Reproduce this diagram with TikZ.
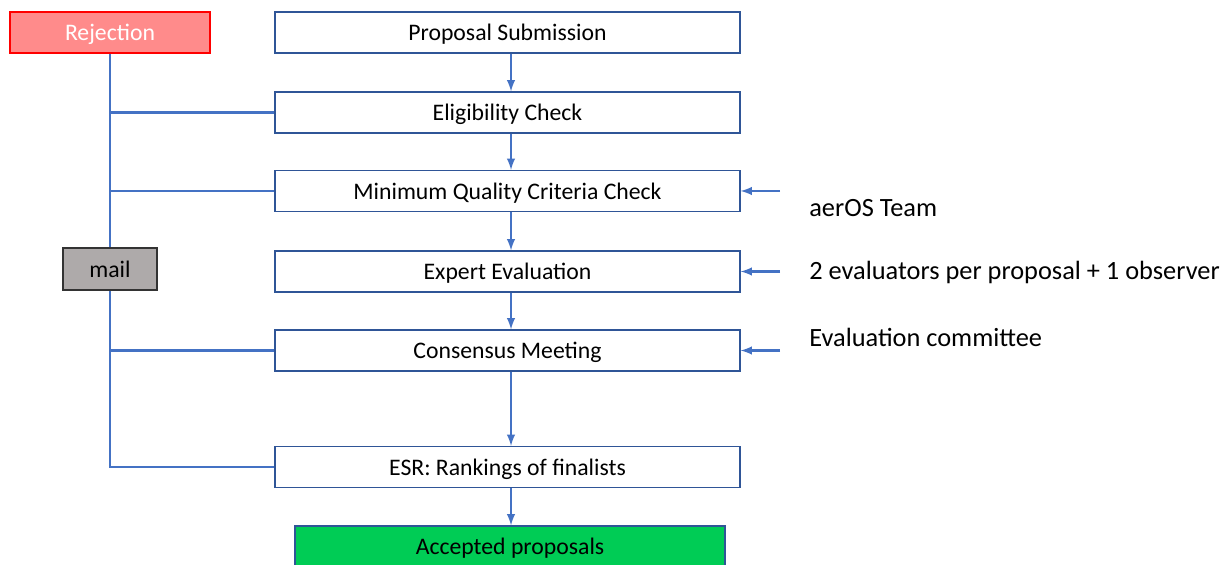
\documentclass[tikz,border=0pt]{standalone}
\usepackage{fontspec}
\setmainfont{Carlito}
\usetikzlibrary{positioning}
\definecolor{linkblue}{HTML}{4472C4}
\definecolor{boxblue}{HTML}{2F5597}
\definecolor{rejfill}{HTML}{FF8B8B}
\definecolor{mailfill}{HTML}{AEAAAA}
\definecolor{accfill}{HTML}{00CC55}
\tikzstyle{box}=[rectangle,fill=white,draw=boxblue,minimum width=9.3cm,minimum height=0.82cm,inner sep=0pt,line width=0.8pt,anchor=center,text height=11.5pt,text depth=2pt,font=\fontsize{13.5}{16}\selectfont]
\tikzstyle{annot}=[anchor=west,inner sep=0pt,font=\fontsize{15}{18}\selectfont]
\tikzstyle{link}=[draw=linkblue,line width=1.2pt]
\tikzstyle{flow}=[link,-latex]

\begin{document}
\begin{tikzpicture}
	\useasboundingbox (0,0) rectangle (24.54,-11.3);

	% main steps
	\node[box](submit) at (10.15,-0.65){Proposal Submission};
	\node[box](elig) at (10.15,-2.25){Eligibility Check};
	\node[box](quality) at (10.15,-3.82){Minimum Quality Criteria Check};
	\node[box](expert) at (10.15,-5.43){Expert Evaluation};
	\node[box](consensus) at (10.15,-7.01){Consensus Meeting};
	\node[box](esr) at (10.15,-9.34){ESR: Rankings of finalists};
	\node[box, minimum width=8.6cm, fill=accfill](accepted) at (10.2,-10.93){Accepted proposals};

	% rejection side
	\node[box, minimum width=4cm, fill=rejfill, draw=red, text=white](reject) at (2.2,-0.65){Rejection};
	\coordinate (corner) at (2.2,-9.34);
	\draw[link] (reject.south) -- (corner) -- (esr.west);
	\draw[link] (elig.west) -- (elig.west -| reject);
	\draw[link] (quality.west) -- (quality.west -| reject);
	\draw[link] (consensus.west) -- (consensus.west -| reject);
	\node[box, minimum width=1.88cm, minimum height=0.84cm, fill=mailfill, draw=black!80](mail) at (2.2,-5.38){mail};

	% flow
	\draw[flow] ([xshift=0.07cm]submit.south) -- ([xshift=0.07cm]elig.north);
	\draw[flow] ([xshift=0.07cm]elig.south) -- ([xshift=0.07cm]quality.north);
	\draw[flow] ([xshift=0.07cm]quality.south) -- ([xshift=0.07cm]expert.north);
	\draw[flow] ([xshift=0.07cm]expert.south) -- ([xshift=0.07cm]consensus.north);
	\draw[flow] ([xshift=0.07cm]consensus.south) -- ([xshift=0.07cm]esr.north);
	\draw[flow] ([xshift=0.07cm]esr.south) -- ([xshift=0.02cm]accepted.north);

	% who does what
	\coordinate (team) at (15.6,-3.82);
	\coordinate (evals) at (15.6,-5.43);
	\coordinate (committee) at (15.6,-7.01);
	\draw[flow] (team) -- (quality.east);
	\draw[flow] (evals) -- (expert.east);
	\draw[flow] (committee) -- (consensus.east);
	\node[annot](teamlbl) at (16.18,-4.16){aerOS Team};
	\node[annot](evalslbl) at (16.18,-5.44){2 evaluators per proposal + 1 observer};
	\node[annot](committeelbl) at (16.18,-6.74){Evaluation committee};
\end{tikzpicture}
\end{document}
